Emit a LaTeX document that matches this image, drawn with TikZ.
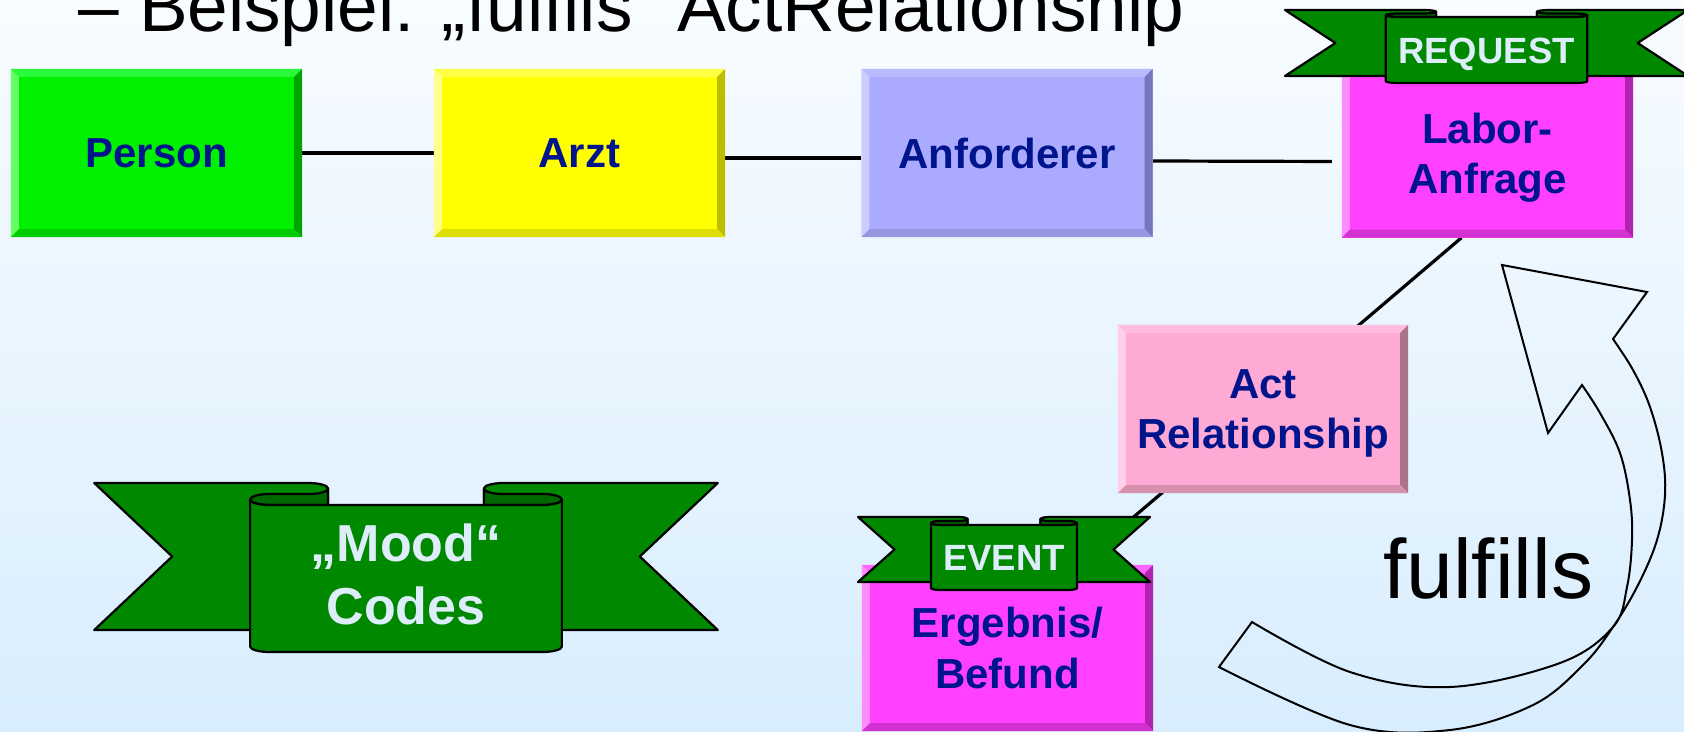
\documentclass[tikz,border=0pt]{standalone}
\usepackage{fontspec}
\setmainfont{Liberation Sans}[Ligatures={TeX,NoCommon}]
\usetikzlibrary{calc}
\pgfdeclarelayer{back}
\pgfsetlayers{back,main}

\definecolor{bgtop}{RGB}{248,252,255}
\definecolor{bgmid}{RGB}{239,248,255}
\definecolor{bgbot}{RGB}{216,237,254}
\definecolor{labelblue}{RGB}{0,20,140}
\definecolor{ribgreen}{RGB}{0,136,0}
\definecolor{ribdark}{RGB}{0,104,0}
\definecolor{ribtextc}{RGB}{221,238,250}
% green
\definecolor{grF}{RGB}{0,240,0}\definecolor{grT}{RGB}{40,250,60}\definecolor{grL}{RGB}{100,255,100}
\definecolor{grR}{RGB}{0,165,0}\definecolor{grB}{RGB}{0,205,0}
% yellow
\definecolor{yeF}{RGB}{255,255,0}\definecolor{yeT}{RGB}{255,255,70}\definecolor{yeL}{RGB}{255,255,140}
\definecolor{yeR}{RGB}{190,190,0}\definecolor{yeB}{RGB}{222,222,0}
% lavender
\definecolor{blF}{RGB}{170,170,255}\definecolor{blT}{RGB}{186,186,255}\definecolor{blL}{RGB}{204,204,255}
\definecolor{blR}{RGB}{118,118,190}\definecolor{blB}{RGB}{150,150,225}
% magenta
\definecolor{maF}{RGB}{255,64,255}\definecolor{maT}{RGB}{255,100,255}\definecolor{maL}{RGB}{255,140,255}
\definecolor{maR}{RGB}{175,35,175}\definecolor{maB}{RGB}{210,50,210}
% pink
\definecolor{piF}{RGB}{255,170,212}\definecolor{piT}{RGB}{255,188,222}\definecolor{piL}{RGB}{255,206,232}
\definecolor{piR}{RGB}{170,115,140}\definecolor{piB}{RGB}{215,145,175}

\newcommand\lblfont{\bfseries\fontsize{42}{50.5}\selectfont}
\newcommand\ribbonfont{\bfseries\fontsize{36.5}{44}\selectfont}
\newcommand\moodtextfont{\bfseries\fontsize{52}{63}\selectfont}
\newcommand\headingfont{\fontsize{73}{88}\selectfont}
\newcommand\verbfont{\fontsize{84}{100}\selectfont}

% bevelled edges of a box node: #1 node, #2 colour prefix
\newcommand\bevels[2]{%
  \fill[#2T] (#1.north west) -- (#1.north east) -- ([shift={(-8,8)}]#1.north east) -- ([shift={(8,8)}]#1.north west) -- cycle;
  \fill[#2L] (#1.north west) -- ([shift={(8,8)}]#1.north west) -- ([shift={(8,-8)}]#1.south west) -- (#1.south west) -- cycle;
  \fill[#2R] (#1.north east) -- ([shift={(-8,8)}]#1.north east) -- ([shift={(-8,-8)}]#1.south east) -- (#1.south east) -- cycle;
  \fill[#2B] (#1.south west) -- ([shift={(8,-8)}]#1.south west) -- ([shift={(-8,-8)}]#1.south east) -- (#1.south east) -- cycle;
}

% scroll banner: #1 centre x, #2 top, #3 width, #4 height, #5 curl radius
\newcommand\ribbon[5]{%
  \pgfmathsetmacro\rbL{#1-#3/2}
  \pgfmathsetmacro\rbR{#1+#3/2}
  \pgfmathsetmacro\rbwa{#3/8}
  \pgfmathsetmacro\rbwb{#3/32}
  \pgfmathsetmacro\rbkw{0.5523*#3/32}
  \pgfmathsetmacro\rbkh{0.5523*#5}
  \pgfmathsetmacro\rbxb{#1-#3/4}
  \pgfmathsetmacro\rbxi{#1+#3/4}
  \pgfmathsetmacro\rbxc{\rbxb+\rbwb}
  \pgfmathsetmacro\rbxh{\rbxi-\rbwb}
  \pgfmathsetmacro\rbxe{\rbxb+\rbwa}
  \pgfmathsetmacro\rbxf{\rbxi-\rbwa}
  \pgfmathsetmacro\rbxd{\rbxe-\rbwb}
  \pgfmathsetmacro\rbxg{\rbxf+\rbwb}
  \pgfmathsetmacro\rbT{#2}
  \pgfmathsetmacro\rbh{#5}
  \pgfmathsetmacro\rbyr{#2+#5}
  \pgfmathsetmacro\rbya{#2+2*#5}
  \pgfmathsetmacro\rbyc{#2+3*#5}
  \pgfmathsetmacro\rbyb{#2+4*#5}
  \pgfmathsetmacro\rbB{#2+#4}
  \pgfmathsetmacro\rbyd{\rbB-4*#5}
  \pgfmathsetmacro\rbye{\rbB-#5}
  \pgfmathsetmacro\rbym{(\rbT+\rbyd)/2}
  % wings
  \filldraw[ribline, fill=ribgreen] (\rbL,\rbT) -- (\rbxd,\rbT)
    .. controls (\rbxd+\rbkw,\rbT) and (\rbxe,\rbyr-\rbkh) .. (\rbxe,\rbyr)
    -- (\rbxe,\rbyd) -- (\rbL,\rbyd) -- (\rbL+\rbwa,\rbym) -- cycle;
  \filldraw[ribline, fill=ribgreen] (\rbR,\rbT) -- (\rbxg,\rbT)
    .. controls (\rbxg-\rbkw,\rbT) and (\rbxf,\rbyr-\rbkh) .. (\rbxf,\rbyr)
    -- (\rbxf,\rbyd) -- (\rbR,\rbyd) -- (\rbR-\rbwa,\rbym) -- cycle;
  % folds
  \filldraw[ribline, fill=ribdark] (\rbxe,\rbyr)
    .. controls (\rbxe,\rbyr+\rbkh) and (\rbxd+\rbkw,\rbya) .. (\rbxd,\rbya)
    -- (\rbxc,\rbya)
    .. controls (\rbxc-\rbkw,\rbya) and (\rbxb,\rbyc-\rbkh) .. (\rbxb,\rbyc)
    .. controls (\rbxb,\rbyc+\rbkh) and (\rbxc-\rbkw,\rbyb) .. (\rbxc,\rbyb)
    -- (\rbxe,\rbyb) -- cycle;
  \filldraw[ribline, fill=ribdark] (\rbxf,\rbyr)
    .. controls (\rbxf,\rbyr+\rbkh) and (\rbxg-\rbkw,\rbya) .. (\rbxg,\rbya)
    -- (\rbxh,\rbya)
    .. controls (\rbxh+\rbkw,\rbya) and (\rbxi,\rbyc-\rbkh) .. (\rbxi,\rbyc)
    .. controls (\rbxi,\rbyc+\rbkh) and (\rbxh+\rbkw,\rbyb) .. (\rbxh,\rbyb)
    -- (\rbxf,\rbyb) -- cycle;
  % front panel
  \filldraw[ribline, fill=ribgreen] (\rbxb,\rbyc) -- (\rbxb,\rbye)
    .. controls (\rbxb,\rbye+\rbkh) and (\rbxc-\rbkw,\rbB) .. (\rbxc,\rbB)
    -- (\rbxh,\rbB)
    .. controls (\rbxh+\rbkw,\rbB) and (\rbxi,\rbye+\rbkh) .. (\rbxi,\rbye)
    -- (\rbxi,\rbyc)
    .. controls (\rbxi,\rbyc+\rbkh) and (\rbxh+\rbkw,\rbyb) .. (\rbxh,\rbyb)
    -- (\rbxc,\rbyb)
    .. controls (\rbxc-\rbkw,\rbyb) and (\rbxb,\rbyc+\rbkh) .. (\rbxb,\rbyc)
    -- cycle;
}

\begin{document}
\begin{tikzpicture}[x=1pt,y=-1pt,
  rowbox/.style={rectangle, inner sep=0pt, minimum width=291pt, minimum height=168pt,
    align=center, text=labelblue, font=\lblfont, text depth=0pt},
  conn/.style={line width=3.2pt, black},
  ribline/.style={line width=2.2pt, line join=round, draw=black},
  ribtext/.style={inner sep=0pt, text=ribtextc},
  bigarrow/.style={line width=2pt, line join=miter, draw=black}]
\useasboundingbox (0,0) rectangle (1684,731);
\clip (0,0) rectangle (1684,731);
\begin{pgfonlayer}{back}
  \shade[top color=bgtop, middle color=bgmid, bottom color=bgbot] (0,0) rectangle (1684,731);
\end{pgfonlayer}

% boxes
\node[rowbox, fill=grF] (person) at (156.5,153) {Person};
\bevels{person}{gr}
\node[rowbox, fill=yeF] (arzt) at (579.5,153) {Arzt};
\bevels{arzt}{ye}
\node[rowbox, fill=blF] (anf) at (1007,153) {Anforderer};
\bevels{anf}{bl}
\node[rowbox, fill=maF] (labor) at (1487.5,153.5) {Labor-\\Anfrage};
\bevels{labor}{ma}
\node[rowbox, fill=piF, minimum width=290pt] (act) at (1263,409) {Act\\Relationship};
\bevels{act}{pi}
\node[rowbox, fill=maF, minimum height=166pt] (erg) at (1007.5,648) {Ergebnis/\\Befund};
\bevels{erg}{ma}

% connectors, behind the boxes
\begin{pgfonlayer}{back}
  \draw[conn] (person.east) -- (arzt.west);
  \draw[conn] ([shift={(0,5)}]arzt.east) -- ([shift={(0,5)}]anf.west);
  \draw[conn, shorten >=10pt] ([shift={(0,8)}]anf.east) -- ([shift={(0,8)}]labor.west);
  \draw[conn] ([shift={(-26,0)}]labor.south) -- ([shift={(70,0)}]erg.north);
\end{pgfonlayer}

% banners
\ribbon{1486.5}{10}{403}{73}{1.75}
\ribbon{1004}{517}{292}{73}{2}
\ribbon{406}{483}{623.5}{169}{5.5}
\node[ribtext, font=\ribbonfont, anchor=base] (request) at (1486.5,63) {REQUEST};
\node[ribtext, font=\ribbonfont, anchor=base] (event) at (1004,570) {EVENT};
\node[ribtext, font=\moodtextfont, align=center] (mood) at (406,574.5) {„Mood“\\Codes};

% curved block arrow
\draw[bigarrow] (1502,265) -- (1647,292) -- (1613,339)
  -- plot[smooth, tension=0.6] coordinates {(1613,339) (1633,370) (1650,407) (1662,453) (1665,495)
     (1657,540) (1638,585) (1613,627) (1583,665) (1533,705) (1450,730) (1350,725) (1219,667)}
  -- (1252,622)
  -- plot[smooth, tension=0.6] coordinates {(1252,622) (1350,672) (1450,687) (1560,663) (1613,627)
     (1627,587) (1632,540) (1630,500) (1620,453) (1600,413) (1582,385)}
  -- (1548,433) -- cycle;

% texts
\node[anchor=base west, inner sep=0pt, font=\headingfont] (title) at (78,31.5) {– Beispiel: „fulfils“ ActRelationship};
\node[anchor=base west, inner sep=0pt, font=\verbfont] (fulfills) at (1383,598) {fulfills};
\end{tikzpicture}
\end{document}
